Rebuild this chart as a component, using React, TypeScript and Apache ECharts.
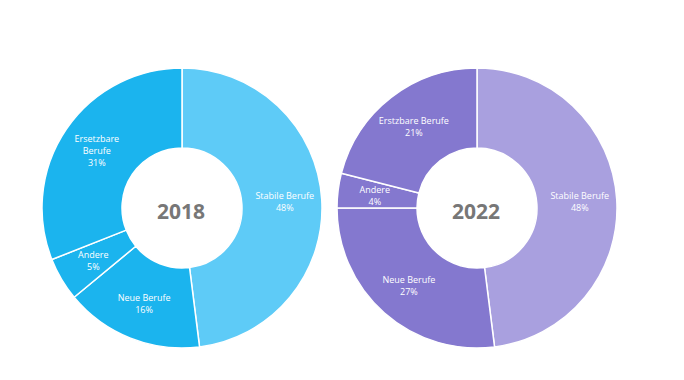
import React, { useEffect, useRef } from "react";
import * as echarts from "echarts";

const categories2018 = ["Stabile Berufe", "Neue Berufe", "Andere", "Ersetzbare\nBerufe"];
const values2018 = [48, 16, 5, 31];
const colors2018 = ["#5ECBF7", "#1BB4EE", "#1BB4EE", "#1BB4EE"];

const categories2022 = ["Stabile Berufe", "Neue Berufe", "Andere", "Erstzbare Berufe"];
const values2022 = [48, 27, 4, 21];
const colors2022 = ["#A9A0DF", "#8478CF", "#8478CF", "#8478CF"];

const years = ["2018", "2022"];

function buildSeries(name: string, cats: string[], vals: number[], cols: string[], cx: number) {
  return {
    type: "pie",
    name,
    center: [cx, 208],
    radius: [60, 140],
    startAngle: 90,
    clockwise: true,
    silent: true,
    itemStyle: { borderColor: "#ffffff", borderWidth: 1.5 },
    label: {
      show: true,
      position: "inside",
      color: "#ffffff",
      fontFamily: "Open Sans",
      fontSize: 9,
      lineHeight: 12,
      formatter: (p: any) => `${p.name}\n${p.value}%`,
    },
    labelLine: { show: false },
    data: cats.map((c, i) => ({ name: c, value: vals[i], itemStyle: { color: cols[i] } })),
  };
}

export default function App() {
  const ref = useRef<HTMLDivElement>(null);
  useEffect(() => {
    document.body.style.margin = "0";
    const chart = echarts.init(ref.current!, undefined, { renderer: "svg" });
    chart.setOption({
      animation: false,
      backgroundColor: "#ffffff",
      series: [
        buildSeries("2018", categories2018, values2018, colors2018, 182),
        buildSeries("2022", categories2022, values2022, colors2022, 477),
      ],
      graphic: [
        {
          type: "text",
          x: 181,
          y: 211,
          style: {
            text: years[0],
            fill: "#777777",
            font: "bold 21px 'Open Sans'",
            textAlign: "center",
            textVerticalAlign: "middle",
          },
        },
        {
          type: "text",
          x: 476,
          y: 211,
          style: {
            text: years[1],
            fill: "#777777",
            font: "bold 21px 'Open Sans'",
            textAlign: "center",
            textVerticalAlign: "middle",
          },
        },
      ],
    });
    return () => chart.dispose();
  }, []);
  return <div ref={ref} style={{ width: 684, height: 380, position: "absolute", left: 0, top: 0 }} />;
}
